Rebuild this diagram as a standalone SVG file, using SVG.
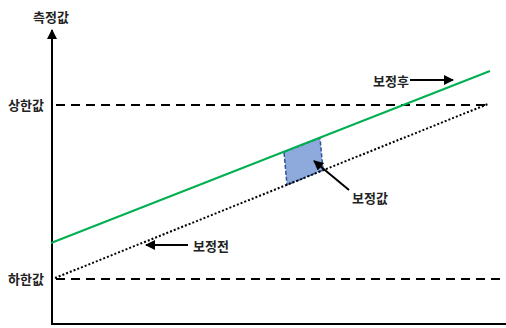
<svg xmlns="http://www.w3.org/2000/svg" width="506" height="328" viewBox="0 0 506 328">
<defs>
<marker id="ah" viewBox="0 0 10 10" refX="9" refY="5" markerWidth="6" markerHeight="5" orient="auto-start-reverse" markerUnits="strokeWidth">
<path d="M0,0 L10,5 L0,10 z" fill="#000"/>
</marker>
<style>
.lbl{font-family:"Noto Sans CJK KR","Noto Sans",sans-serif;font-size:13px;font-weight:bold;fill:#222}
.ax{stroke:#000;stroke-width:2;fill:none}
.dash{stroke:#000;stroke-width:2;stroke-dasharray:9,6;fill:none}
.arr{stroke:#000;stroke-width:2;fill:none;marker-end:url(#ah)}
</style>
</defs>
<rect width="506" height="328" fill="#fff"/>
<g id="axes">
<line class="ax" x1="52" y1="325" x2="52" y2="30" marker-end="url(#ah)"/>
<line class="ax" x1="51" y1="324" x2="506" y2="324"/>
</g>
<g id="limits">
<line class="dash" x1="56" y1="105" x2="488" y2="105"/>
<line class="dash" x1="56" y1="279" x2="500" y2="279"/>
</g>
<g id="correction">
<polygon points="284,152 320,138 323,170 287,185" fill="#8EA9DB" stroke="#2F5597" stroke-width="1.5" stroke-dasharray="4,2"/>
</g>
<g id="before">
<line x1="55" y1="278" x2="488" y2="104" stroke="#000" stroke-width="2" stroke-dasharray="2,2"/>
</g>
<g id="after">
<line x1="51" y1="243" x2="490" y2="71" stroke="#00B050" stroke-width="2"/>
</g>
<g id="connectors">
<line class="arr" x1="349" y1="190" x2="314" y2="161"/>
<line class="arr" x1="410" y1="80" x2="453" y2="80"/>
<line class="arr" x1="188" y1="245" x2="146" y2="245"/>
</g>
<g id="labels">
<text class="lbl" x="51" y="22" text-anchor="middle">측정값</text>
<text class="lbl" x="26" y="110" text-anchor="middle">상한값</text>
<text class="lbl" x="26" y="284" text-anchor="middle">하한값</text>
<text class="lbl" x="391" y="86" text-anchor="middle">보정후</text>
<text class="lbl" x="370" y="203" text-anchor="middle">보정값</text>
<text class="lbl" x="211" y="251" text-anchor="middle">보정전</text>
</g>
</svg>
